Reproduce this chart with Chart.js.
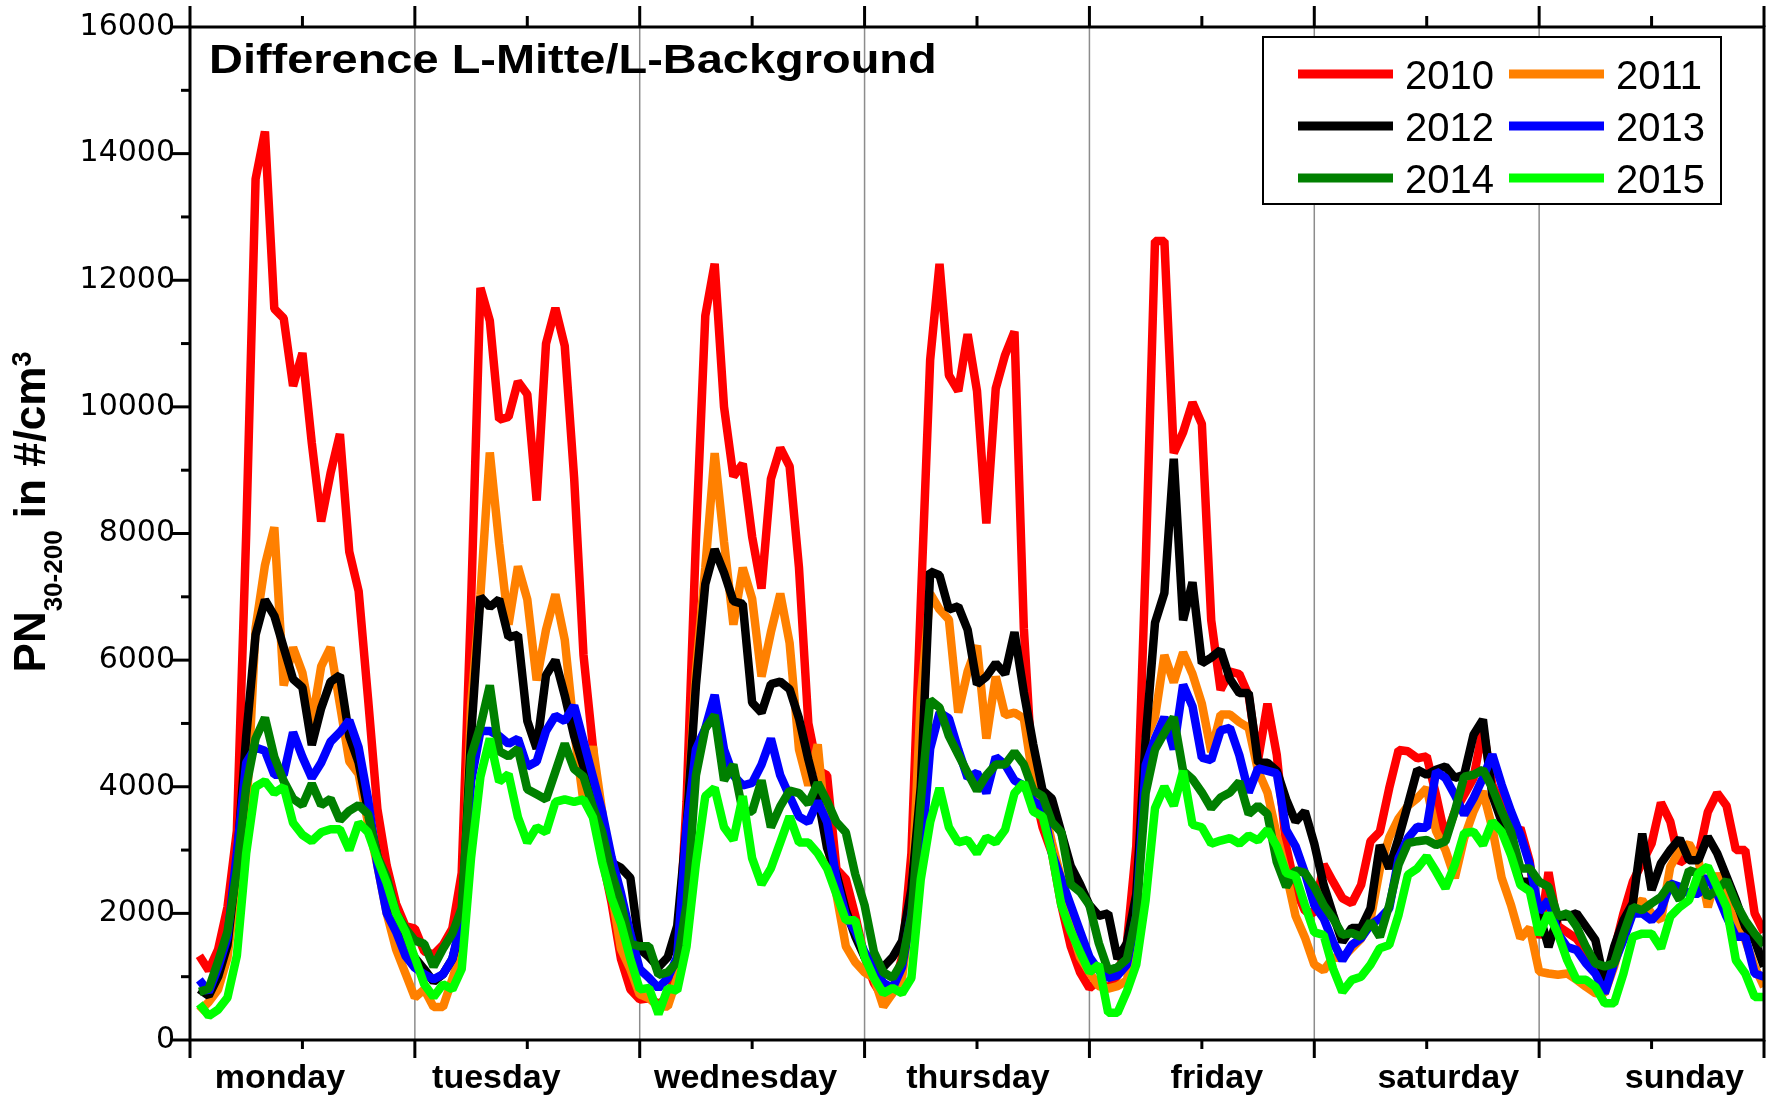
<!DOCTYPE html>
<html>
<head>
<meta charset="utf-8">
<script src="https://cdn.jsdelivr.net/npm/chart.js@4.4.1/dist/chart.umd.min.js"></script>
<style>
html,body{margin:0;padding:0;background:#fff;}
#wrap{width:1767px;height:1110px;}
</style>
</head>
<body>
<div id="wrap"><canvas id="c" width="1767" height="1110"></canvas></div>
<script>
// ---------- data ----------
const hours = Array.from({length: 168}, (_, i) => i + 1); // hour of week (x categories)
const dayNames = ['monday','tuesday','wednesday','thursday','friday','saturday','sunday'];
const yTickValues = [0, 2000, 4000, 6000, 8000, 10000, 12000, 14000, 16000];
const seriesLabels = ['2010', '2011', '2012', '2013', '2014', '2015'];

const y2010 = [
1330,1100,1430,2100,3300,8000,13600,14350,11550,11400,10330,10850,9430,8190,8950,9570,7710,7090,5400,3650,2750,2150,1800,1760,
1400,1350,1500,1760,2640,6900,11880,11360,9800,9840,10400,10200,8520,11000,11560,10960,8880,6080,4640,2880,2160,1280,800,640,
660,570,660,1150,3770,7900,11440,12260,10000,8900,9100,7950,7130,8860,9350,9060,7460,5000,4260,4180,2700,2540,1970,1310,
900,660,740,1310,2950,6900,10740,12260,10500,10250,11150,10250,8160,10290,10820,11190,6500,4000,3360,2950,2130,1480,1070,820,
940,810,1020,1530,3060,7500,12620,12620,9270,9600,10070,9730,6630,5530,5820,5780,5440,4420,5310,4500,3060,2380,2040,2000,
2770,2500,2240,2160,2450,3140,3290,3980,4580,4560,4450,4480,3870,3190,3610,3870,4140,4930,4030,3720,3190,3350,2820,1610,
2650,1800,1700,1600,1400,1200,900,1400,2000,2500,2800,3100,3750,3450,2800,2900,2900,3600,3900,3700,3000,3000,2000,1700
];
const y2011 = [
450,600,800,1300,2500,3500,6500,7500,8100,5600,6200,5800,5000,5900,6200,5300,4400,4200,3430,2760,2000,1430,1050,670,
800,520,520,960,1440,5280,7040,9280,7840,6560,7480,6960,5680,6480,7040,6320,4880,3760,4640,3600,2320,1440,1120,720,
660,530,530,980,3360,5820,7460,9270,7870,6560,7460,6970,5740,6440,7050,6270,4590,4020,4670,3120,2300,1480,1230,1070,
980,530,740,980,2130,5400,7050,6800,6640,5170,5820,6230,4760,5740,5130,5170,5080,4100,3770,3120,2540,1800,1310,1070,
850,810,850,940,1790,4760,5100,6080,5650,6120,5780,5310,4550,5140,5140,5020,4930,4250,3910,3230,2640,1960,1620,1190,
1100,1300,1300,1450,1600,1900,2700,3200,3500,3700,3820,3980,3300,3000,2560,3190,3610,3930,3350,2560,2130,1610,1770,1080,
1050,1030,1050,950,840,740,740,1160,1680,2100,2210,2000,1890,2740,3000,3100,2840,2100,2630,2260,1950,1580,1160,840
];
const y2012 = [
800,700,1000,1500,2800,4800,6400,6950,6700,6200,5700,5570,4660,5240,5660,5760,4800,4380,3620,2900,2380,1810,1520,1300,
1120,920,1040,1280,1840,4800,7000,6840,6960,6360,6400,5040,4600,5760,6000,5440,4800,4320,3760,3200,2800,2720,2560,1440,
1310,1150,1310,1800,3360,5600,7200,7750,7380,6930,6890,5330,5170,5620,5660,5540,5080,4430,3850,3030,2620,2050,1640,1310,
1150,1150,1310,1560,2380,4000,7400,7340,6800,6850,6480,5620,5740,5950,5780,6440,5490,4670,3940,3810,3280,2750,2460,2130,
1960,2000,1280,1530,2300,4760,6590,7060,9180,6630,7230,5950,6040,6160,5700,5480,5480,4380,4380,4250,3800,3450,3610,3100,
2450,1980,1550,1770,1770,2080,3080,2710,3190,3720,4270,4190,4270,4320,4140,4190,4820,5060,3870,3450,2980,2500,2500,2000,
1470,1950,1950,2000,1790,1580,890,1470,1890,2160,3260,2370,2790,3000,3180,2840,2840,3210,2950,2580,2210,1790,1580,1160
];
const y2013 = [
950,760,1140,1620,2950,4380,4620,4570,4190,4190,4860,4470,4140,4380,4710,4860,5050,4620,3810,2760,2000,1710,1330,1140,
1040,960,1040,1280,1920,4080,4880,4880,4800,4680,4760,4320,4400,4880,5120,5040,5280,4720,4160,3600,2880,2320,1680,1120,
980,820,980,1310,3360,4590,4920,5450,4590,4180,4020,4060,4350,4760,4180,3850,3530,3440,3770,3440,2540,1970,1720,1390,
1150,900,820,1150,2000,2800,4600,5170,5080,4590,4140,4220,3900,4470,4350,4100,4020,3770,3690,2950,2540,2130,1720,1310,
1100,980,1020,1190,1960,4340,4760,5100,4590,5610,5270,4460,4420,4890,4930,4500,3910,4290,4250,4210,3320,3060,2640,2130,
1920,1550,1260,1500,1610,1820,1920,2080,2870,3190,3370,3350,4240,4140,3870,3560,3820,4140,4510,4030,3610,3240,2770,2030,
2210,1680,1470,1420,1210,1050,740,1210,1580,2000,2000,1890,2050,2470,2420,2310,2310,2580,2310,1950,1630,1630,1050,1000
];
const y2014 = [
760,810,1240,1710,2670,4000,4760,5090,4470,4090,3810,3710,4050,3710,3810,3470,3620,3710,3570,2900,2570,2000,1760,1570,
1520,1160,1440,1680,2080,4480,4960,5600,4560,4480,4600,3960,3880,3800,4240,4680,4280,4160,3680,3280,2640,2160,1520,1480,
1480,1030,1070,1230,2130,4180,4920,5130,4100,4350,3610,3610,4100,3360,3690,3940,3900,3730,4060,3770,3440,3280,2620,2130,
1390,1070,980,1230,1970,3770,5370,5250,4800,4510,4220,3940,4180,4350,4350,4550,4350,3940,3850,3440,3280,2460,2340,2130,
1530,1100,1150,1280,1960,3900,4590,4850,5100,4250,4120,3910,3660,3830,3910,4080,3570,3700,3570,2810,2420,2680,2640,2420,
2130,1920,1660,1690,1630,1870,1630,2130,2770,3110,3140,3160,3080,3140,3610,4160,4190,4270,3980,3610,3290,2710,2710,2500,
2420,1950,2000,1790,1470,1210,1160,1210,1680,2100,2050,2160,2260,2470,2210,2680,2630,2260,2370,2520,2160,1890,1680,1500
];
const y2015 = [
570,380,480,670,1330,2950,4000,4090,3900,4000,3430,3240,3140,3280,3330,3330,3000,3430,3280,2860,2480,2000,1710,1300,
880,680,880,800,1120,2880,4160,4760,4080,4200,3520,3120,3360,3280,3760,3800,3760,3800,3520,2800,2240,1840,1280,800,
820,410,820,780,1480,2790,3850,3980,3360,3160,3850,2870,2460,2710,3120,3530,3120,3120,2950,2710,2300,1890,1890,1310,
980,740,820,740,980,2540,3440,3980,3360,3120,3160,2950,3200,3120,3320,3900,4060,3610,3530,2950,2130,1720,1390,1070,
1190,430,430,770,1190,2210,3660,4000,3700,4250,3400,3360,3100,3150,3190,3100,3230,3150,3320,3060,2640,2590,2130,1700,
1660,1130,760,950,1000,1190,1450,1500,1980,2610,2710,2900,2660,2400,2770,3270,3290,3080,3450,3290,2920,2450,2350,1660,
2000,1680,1260,950,950,840,580,580,1050,1630,1680,1680,1450,1950,2100,2210,2630,2740,2420,2100,1260,1050,680,680
];

// ---------- styling / layout ----------
const seriesValues = [y2010, y2011, y2012, y2013, y2014, y2015];
const seriesColors = ['#ff0000', '#ff8000', '#000000', '#0000ff', '#008000', '#00ff00'];
const dayBounds = [0, 24, 48, 72, 96, 120, 144, 168];
const dayMids = [12, 36, 60, 84, 108, 132, 156];
const dayLabelAt = [9.6, 32.7, 59.3, 84.1, 109.6, 134.3, 159.5];

const datasets = seriesLabels.map((lab, i) => ({
  label: lab,
  data: hours.map((h, k) => ({x: h, y: seriesValues[i][k]})),
  borderColor: seriesColors[i],
  backgroundColor: seriesColors[i],
  borderWidth: 8.5,
  pointRadius: 0,
  pointHoverRadius: 0,
  tension: 0,
  fill: false,
  borderJoinStyle: 'bevel',
  borderCapStyle: 'butt',
  order: seriesLabels.length - 1 - i
}));

const seg = (ctx, x1, y1, x2, y2) => { ctx.beginPath(); ctx.moveTo(x1, y1); ctx.lineTo(x2, y2); ctx.stroke(); };

const decor = {
  id: 'decor',
  beforeDraw(chart) {
    const ctx = chart.ctx;
    ctx.save();
    ctx.fillStyle = '#ffffff';
    ctx.fillRect(0, 0, chart.width, chart.height);
    ctx.restore();
  },
  beforeDatasetsDraw(chart) {
    const {ctx, chartArea: a, scales: {x}} = chart;
    ctx.save();
    ctx.strokeStyle = '#8c8c8c';
    ctx.lineWidth = 1.5;
    dayBounds.slice(1, -1).forEach(b => {
      const px = x.getPixelForValue(b);
      seg(ctx, px, a.top, px, a.bottom);
    });
    ctx.restore();
  },
  afterDatasetsDraw(chart) {
    const {ctx, chartArea: a, scales: {x, y}} = chart;
    ctx.save();
    // frame
    ctx.strokeStyle = '#000';
    ctx.lineWidth = 3;
    ctx.lineCap = 'butt';
    ctx.strokeRect(a.left, a.top, a.right - a.left, a.bottom - a.top);
    // x tick marks (bottom and top, outward)
    dayBounds.forEach(b => {
      const px = x.getPixelForValue(b);
      seg(ctx, px, a.bottom, px, a.bottom + 18);
      seg(ctx, px, a.top, px, a.top - 21);
    });
    dayMids.forEach(m => {
      const px = x.getPixelForValue(m);
      seg(ctx, px, a.bottom, px, a.bottom + 9);
      seg(ctx, px, a.top, px, a.top - 11);
    });
    // y tick marks (outward)
    y.ticks.forEach(t => {
      const py = y.getPixelForValue(t.value);
      seg(ctx, a.left - 20, py, a.left, py);
      if (t.value + 1000 < y.max) {
        const pm = y.getPixelForValue(t.value + 1000);
        seg(ctx, a.left - 9, pm, a.left, pm);
      }
    });

    // title inside plot
    ctx.save();
    ctx.fillStyle = '#000';
    ctx.font = 'bold 41px "Liberation Sans", Arial, sans-serif';
    ctx.textBaseline = 'alphabetic';
    ctx.textAlign = 'left';
    ctx.translate(209, 73);
    ctx.scale(1.145, 1);
    ctx.fillText('Difference L-Mitte/L-Background', 0, 0);
    ctx.restore();

    // legend box
    const L = {x: 1263, y: 37, w: 458, h: 167};
    ctx.fillStyle = '#fff';
    ctx.fillRect(L.x, L.y, L.w, L.h);
    ctx.lineWidth = 2;
    ctx.strokeStyle = '#000';
    ctx.strokeRect(L.x, L.y, L.w, L.h);
    ctx.font = '40px "Liberation Sans", Arial, sans-serif';
    ctx.textAlign = 'left';
    ctx.textBaseline = 'alphabetic';
    chart.data.datasets.forEach((ds, i) => {
      const col = i % 2, row = Math.floor(i / 2);
      const ly = 74 + row * 52;
      const lx = col ? 1509 : 1298;
      ctx.strokeStyle = ds.borderColor;
      ctx.lineWidth = 9;
      seg(ctx, lx, ly, lx + 95, ly);
      ctx.fillStyle = '#000';
      ctx.fillText(ds.label, lx + 107, ly + 15);
    });

    // y axis title with subscript / superscript
    ctx.save();
    ctx.fillStyle = '#000';
    ctx.translate(45, 512);
    ctx.rotate(-Math.PI / 2);
    const fMain = 'bold 44px "Liberation Sans", Arial, sans-serif';
    const fSub = 'bold 26px "Liberation Sans", Arial, sans-serif';
    const fSup = 'bold 27px "Liberation Sans", Arial, sans-serif';
    const parts = [
      {t: 'PN', f: fMain, dy: 0},
      {t: '30-200', f: fSub, dy: 17},
      {t: ' in #/cm', f: fMain, dy: 0},
      {t: '3', f: fSup, dy: -14}
    ];
    let total = 0;
    parts.forEach(p => { ctx.font = p.f; p.w = ctx.measureText(p.t).width; total += p.w; });
    let cx = -total / 2;
    ctx.textAlign = 'left';
    ctx.textBaseline = 'alphabetic';
    parts.forEach(p => { ctx.font = p.f; ctx.fillText(p.t, cx, p.dy); cx += p.w; });
    ctx.restore();

    ctx.restore();
  }
};

new Chart(document.getElementById('c'), {
  type: 'line',
  data: { datasets },
  options: {
    responsive: false,
    animation: false,
    devicePixelRatio: 1,
    layout: { padding: { left: 0, right: 3, top: 27, bottom: 0 } },
    plugins: { legend: { display: false }, tooltip: { enabled: false }, title: { display: false } },
    scales: {
      x: {
        type: 'linear',
        min: 0,
        max: 168,
        grid: { display: false, drawTicks: false },
        border: { display: false },
        afterBuildTicks: (scale) => { scale.ticks = dayLabelAt.map(v => ({ value: v })); },
        afterFit: (scale) => { scale.height = 70; scale.paddingLeft = 0; scale.paddingRight = 0; },
        ticks: {
          autoSkip: false,
          maxRotation: 0,
          minRotation: 0,
          padding: 18,
          color: '#000',
          font: { family: '"Liberation Sans", Arial, sans-serif', size: 34, weight: 'bold' },
          callback: (v, i) => dayNames[i]
        }
      },
      y: {
        type: 'linear',
        min: 0,
        max: 16000,
        grid: { display: false, drawTicks: false },
        border: { display: false },
        afterBuildTicks: (scale) => { scale.ticks = yTickValues.map(v => ({ value: v })); },
        afterFit: (scale) => { scale.width = 190; scale.paddingTop = 0; scale.paddingBottom = 0; },
        ticks: {
          padding: 15,
          color: '#000',
          font: { family: '"DejaVu Sans", sans-serif', size: 30 },
          callback: (v) => String(v)
        }
      }
    }
  },
  plugins: [decor]
});
</script>
</body>
</html>
